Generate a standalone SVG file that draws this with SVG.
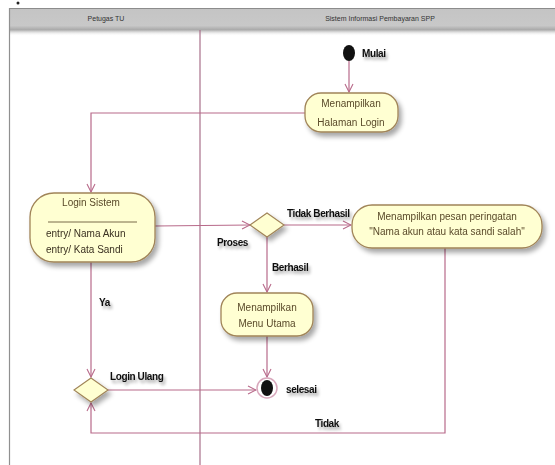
<svg xmlns="http://www.w3.org/2000/svg" width="555" height="465" viewBox="0 0 555 465">
<defs>
<filter id="sh" x="-20%" y="-20%" width="150%" height="160%">
<feGaussianBlur in="SourceAlpha" stdDeviation="2.5"/>
<feOffset dx="3" dy="4" result="b"/>
<feComponentTransfer><feFuncA type="linear" slope="0.35"/></feComponentTransfer>
<feMerge><feMergeNode/><feMergeNode in="SourceGraphic"/></feMerge>
</filter>
<filter id="tsh" x="-20%" y="-40%" width="150%" height="200%">
<feGaussianBlur in="SourceAlpha" stdDeviation="1.5"/>
<feOffset dx="2" dy="3" result="b"/>
<feComponentTransfer><feFuncA type="linear" slope="0.35"/></feComponentTransfer>
<feMerge><feMergeNode/><feMergeNode in="SourceGraphic"/></feMerge>
</filter>
<linearGradient id="hdr" x1="0" y1="0" x2="0" y2="1">
<stop offset="0" stop-color="#c4c4c4"/>
<stop offset="0.8" stop-color="#c8c8c8"/>
<stop offset="1" stop-color="#a8a8a8"/>
</linearGradient>
<linearGradient id="hsh" x1="0" y1="0" x2="0" y2="1">
<stop offset="0" stop-color="#8a8a8a" stop-opacity="0.7"/>
<stop offset="1" stop-color="#ffffff" stop-opacity="0"/>
</linearGradient>
<marker id="arr" markerWidth="10" markerHeight="10" refX="9" refY="5" orient="auto" markerUnits="userSpaceOnUse">
<path d="M1,1 L9,5 L1,9" fill="none" stroke="#b86a8a" stroke-width="1.1"/>
</marker>
<style>
.lane{fill:none;stroke:#a8708a;stroke-width:1.2}
.hd{font-family:"Liberation Sans",Arial,sans-serif;font-size:7px;fill:#333;text-anchor:middle}
.act{fill:#ffffd2;stroke:#a08458;stroke-width:1.3}
.dec{fill:#ffffd2;stroke:#a08458;stroke-width:1.1}
.nt{font-family:"Liberation Sans",Arial,sans-serif;font-size:10px;fill:#5a4a2a;text-anchor:middle}
.ntl{font-family:"Liberation Sans",Arial,sans-serif;font-size:10px;fill:#3a3020}
.lbl{font-family:"Liberation Sans",Arial,sans-serif;font-size:10px;font-weight:bold;fill:#111;letter-spacing:-0.4px}
.con{fill:none;stroke:#b86a8a;stroke-width:1.2}
</style>
</defs>
<rect width="555" height="465" fill="#ffffff"/>
<g id="lanes">
<rect x="9" y="8" width="546" height="22" fill="url(#hdr)"/>
<line x1="9" y1="8.5" x2="555" y2="8.5" stroke="#8c8c8c" stroke-width="1"/>
<rect x="10" y="30" width="545" height="6" fill="url(#hsh)"/>
<line x1="9.5" y1="8" x2="9.5" y2="465" stroke="#909090" stroke-width="1.2"/>
<line x1="200" y1="30" x2="200" y2="465" class="lane"/>
<text class="hd" x="106" y="21">Petugas TU</text>
<text class="hd" x="380" y="21">Sistem Informasi Pembayaran SPP</text>
<circle cx="18" cy="3" r="1.5" fill="#222"/>
</g>
<g id="connectors">
<line class="con" x1="349" y1="61" x2="349" y2="92" marker-end="url(#arr)"/>
<polyline class="con" points="305,113 91,113 91,192" marker-end="url(#arr)"/>
<polyline class="con" points="155,226 250,225" marker-end="url(#arr)"/>
<line class="con" x1="284" y1="225" x2="351" y2="225" marker-end="url(#arr)"/>
<line class="con" x1="267" y1="237" x2="267" y2="292" marker-end="url(#arr)"/>
<line class="con" x1="267" y1="336" x2="267" y2="377" marker-end="url(#arr)"/>
<line class="con" x1="91" y1="262" x2="91" y2="377" marker-end="url(#arr)"/>
<line class="con" x1="107" y1="390" x2="256" y2="390" marker-end="url(#arr)"/>
<polyline class="con" points="445,248 445,433 91,433 91,403" marker-end="url(#arr)"/>
<g filter="url(#tsh)">
<text class="lbl" x="217" y="246">Proses</text>
<text class="lbl" x="287" y="217">Tidak Berhasil</text>
<text class="lbl" x="272" y="271">Berhasil</text>
<text class="lbl" x="99" y="306">Ya</text>
<text class="lbl" x="110" y="380">Login Ulang</text>
<text class="lbl" x="315" y="427">Tidak</text>
</g>
</g>
<g id="start">
<ellipse cx="349" cy="53" rx="6" ry="8" fill="#111"/>
<text class="lbl" x="362" y="57" filter="url(#tsh)">Mulai</text>
</g>
<g id="halaman-login" filter="url(#sh)">
<rect class="act" x="305" y="93" width="93" height="39" rx="16"/>
<text class="nt" x="351" y="107">Menampilkan</text>
<text class="nt" x="351" y="126">Halaman Login</text>
</g>
<g id="login-sistem" filter="url(#sh)">
<rect class="act" x="30" y="193" width="125" height="69" rx="24"/>
<text class="nt" x="91" y="206">Login Sistem</text>
<line x1="48" y1="222" x2="137" y2="222" stroke="#6a5a3a" stroke-width="0.9"/>
<text class="ntl" x="46" y="237">entry/ Nama Akun</text>
<text class="ntl" x="46" y="253">entry/ Kata Sandi</text>
</g>
<g id="proses" filter="url(#sh)">
<polygon class="dec" points="250,225 267,213 284,225 267,237"/>
</g>
<g id="pesan-peringatan" filter="url(#sh)">
<rect class="act" x="352" y="205" width="190" height="43" rx="20"/>
<text class="nt" x="447" y="220">Menampilkan pesan peringatan</text>
<text class="nt" x="447" y="235">"Nama akun atau kata sandi salah"</text>
</g>
<g id="menu-utama" filter="url(#sh)">
<rect class="act" x="221" y="293" width="92" height="43" rx="16"/>
<text class="nt" x="267" y="311">Menampilkan</text>
<text class="nt" x="267" y="327">Menu Utama</text>
</g>
<g id="login-ulang" filter="url(#sh)">
<polygon class="dec" points="74,390 91,378 108,390 91,402"/>
</g>
<g id="selesai">
<circle cx="267" cy="388" r="10" fill="#fff" stroke="#d8a8bc" stroke-width="1.5"/>
<ellipse cx="267" cy="388" rx="6" ry="8" fill="#111"/>
<text class="lbl" x="286" y="393" filter="url(#tsh)">selesai</text>
</g>
</svg>
